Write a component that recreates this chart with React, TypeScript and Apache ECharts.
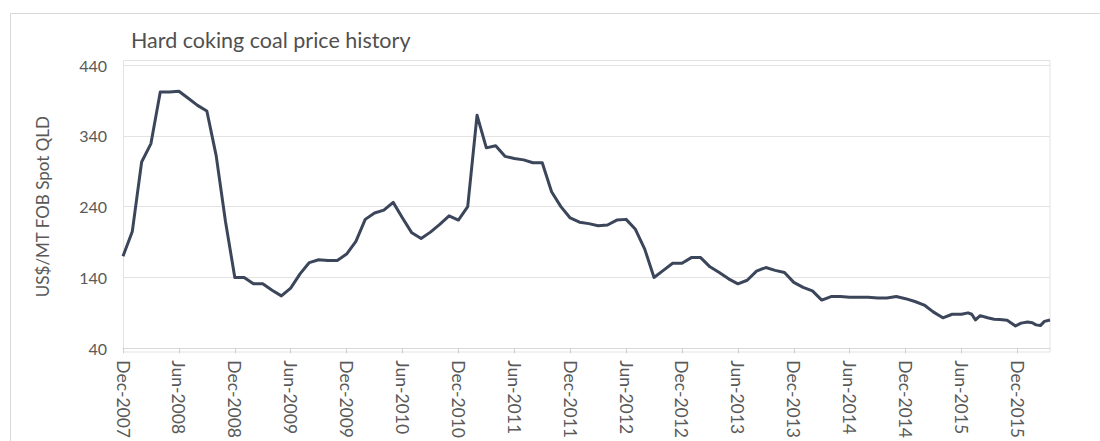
import React, { useEffect, useRef } from "react";
import * as echarts from "echarts";

const title = "Hard coking coal price history";
const yAxisName = "US$/MT FOB Spot QLD";
const monthNames = ["Jan", "Feb", "Mar", "Apr", "May", "Jun", "Jul", "Aug", "Sep", "Oct", "Nov", "Dec"];

// monthly observations from Dec-2007 to Jun-2015
const monthlyStart = "2007-12";
const monthlyValues = [
  170, 205, 303, 329, 402, 402, 403, 393, 383, 375, 312, 219,
  140, 140, 131, 131, 122, 114, 125, 145, 161, 165, 164, 164,
  173, 191, 222, 231, 235, 246, 224, 203, 195, 204, 215, 227,
  221, 240, 369, 323, 326, 311, 308, 306, 302, 302, 261, 240,
  224, 218, 216, 213, 214, 221, 222, 208, 180, 140, 150, 160,
  160, 168, 168, 155, 147, 138, 131, 136, 149, 154, 150, 147,
  133, 126, 121, 108, 113, 113, 112, 112, 112, 111, 111, 113,
  110, 106, 101, 91, 83, 88, 88,
];

// finer observations after Jun-2015
const tailDates = [
  "2015-06-22", "2015-07-04", "2015-07-16", "2015-08-01", "2015-08-25",
  "2015-09-16", "2015-10-04", "2015-10-28", "2015-11-25", "2015-12-13",
  "2016-01-04", "2016-01-19", "2016-02-01", "2016-02-15", "2016-02-28",
  "2016-03-16",
];
const tailValues = [90, 88, 80, 86, 83, 81, 80.5, 79.5, 71.5, 75.5, 77, 76, 73, 72, 78, 80];

const yTicks = [40, 140, 240, 340, 440];

function monthOffset(date: string): number {
  const [y, m, d] = date.split("-").map(Number);
  const base = (y - 2007) * 12 + (m - 12);
  return base + ((d || 1) - 1) / 30;
}

function buildSeries(): [number, number][] {
  const [sy, sm] = monthlyStart.split("-").map(Number);
  const out: [number, number][] = [];
  monthlyValues.forEach((v, i) => {
    const total = sm - 1 + i;
    const y = sy + Math.floor(total / 12);
    const m = (total % 12) + 1;
    out.push([monthOffset(`${y}-${String(m).padStart(2, "0")}-01`), v]);
  });
  tailDates.forEach((d, i) => out.push([monthOffset(d), tailValues[i]]));
  return out;
}

function labelFor(v: number): string {
  if (Math.abs(v - Math.round(v)) > 1e-6 || Math.round(v) % 6 !== 0) return "";
  const idx = 11 + Math.round(v);
  return `${monthNames[idx % 12]}-${2007 + Math.floor(idx / 12)}`;
}

export default function App() {
  const ref = useRef<HTMLDivElement>(null);
  useEffect(() => {
    document.body.style.margin = "0";
    const chart = echarts.init(ref.current!, undefined, { renderer: "svg" });
    const data = buildSeries();
    const xMax = data[data.length - 1][0];
    const font = "Lato, 'Open Sans', sans-serif";
    chart.setOption({
      animation: false,
      backgroundColor: "#ffffff",
      textStyle: { fontFamily: font },
      title: {
        text: title,
        left: 126,
        top: 24,
        textStyle: { fontFamily: font, fontSize: 21.5, fontWeight: "normal", color: "#505050" },
      },
      graphic: [
        {
          type: "rect",
          shape: { x: 10.5, y: 13.5, width: 1200, height: 600 },
          style: { fill: "none", stroke: "#d9d9d9", lineWidth: 1 },
          silent: true,
        },
        {
          type: "rect",
          shape: { x: 123.5, y: 60.5, width: 926.5, height: 291.5 },
          style: { fill: "none", stroke: "#e3e3e3", lineWidth: 1 },
          silent: true,
        },
      ],
      grid: { left: 123, right: 50, top: 65, bottom: 89 },
      xAxis: {
        type: "value",
        min: 0,
        max: xMax,
        interval: 6,
        splitLine: { show: false },
        axisLine: { show: true, lineStyle: { color: "#d9d9d9", width: 1 } },
        axisTick: { show: true, length: 5, lineStyle: { color: "#cfcfcf" } },
        axisLabel: {
          rotate: -90,
          margin: 12,
          fontSize: 17.5,
          color: "#595959",
          fontFamily: font,
          formatter: (v: number) => labelFor(v),
          showMaxLabel: false,
        },
      },
      yAxis: {
        type: "value",
        min: yTicks[0],
        max: yTicks[yTicks.length - 1],
        interval: 100,
        name: yAxisName,
        nameLocation: "middle",
        nameGap: 72,
        nameRotate: 90,
        nameTextStyle: { fontSize: 17, color: "#595959", fontFamily: font },
        axisLine: { show: false },
        axisTick: { show: false },
        axisLabel: { fontSize: 16, color: "#595959", margin: 16, fontFamily: font },
        splitLine: { show: true, lineStyle: { color: "#e3e3e3", width: 1 } },
      },
      series: [
        {
          type: "line",
          data,
          showSymbol: false,
          symbol: "none",
          lineStyle: { color: "#3c465b", width: 3, join: "round" },
        },
      ],
    });
    return () => chart.dispose();
  }, []);
  return <div ref={ref} style={{ width: 1100, height: 441 }} />;
}
